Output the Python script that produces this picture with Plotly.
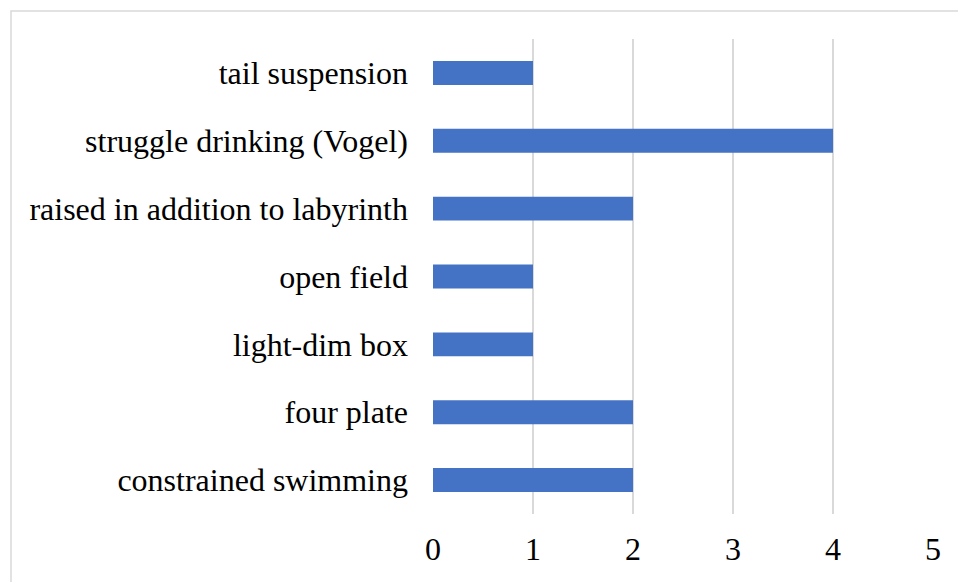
import plotly.graph_objects as go

categories = ["constrained swimming", "four plate", "light-dim box", "open field",
              "raised in addition to labyrinth", "struggle drinking (Vogel)", "tail suspension"]
values = [2, 2, 1, 1, 2, 4, 1]
x_ticks = [0, 1, 2, 3, 4, 5]

W, H = 958, 582
L, R, T, B = 433, 25, 39, 68
pw, ph = W - L - R, H - T - B

fig = go.Figure(go.Bar(
    y=categories, x=values, orientation="h",
    marker=dict(color="#4472C4", line=dict(width=0)),
    width=0.353,
))

fig.update_layout(
    width=W, height=H,
    margin=dict(l=L, r=R, t=T, b=B, autoexpand=False),
    paper_bgcolor="white", plot_bgcolor="white",
    font=dict(family="Liberation Serif, Times New Roman, serif", size=32, color="black"),
    showlegend=False,
    xaxis=dict(range=[0, 5], tickvals=x_ticks, showgrid=True, gridcolor="#d9d9d9",
               gridwidth=1.5, zeroline=False, showline=False, ticks="",
               ticklabelstandoff=13, fixedrange=True),
    yaxis=dict(categoryorder="array", categoryarray=categories, showgrid=False,
               zeroline=False, showline=False, ticks="", ticklabelstandoff=24,
               range=[-0.5, 6.5], fixedrange=True),
    shapes=[dict(type="rect", xref="paper", yref="paper",
                 x0=(11 - L) / pw, x1=(W + 10 - L) / pw,
                 y0=-(B + 20) / ph, y1=(H - B - 11) / ph,
                 line=dict(color="#d9d9d9", width=1.5), layer="below")],
)

fig.write_html("out.html", config={"displayModeBar": False},
               post_script="document.body.style.margin='0';document.body.style.overflow='hidden';")
